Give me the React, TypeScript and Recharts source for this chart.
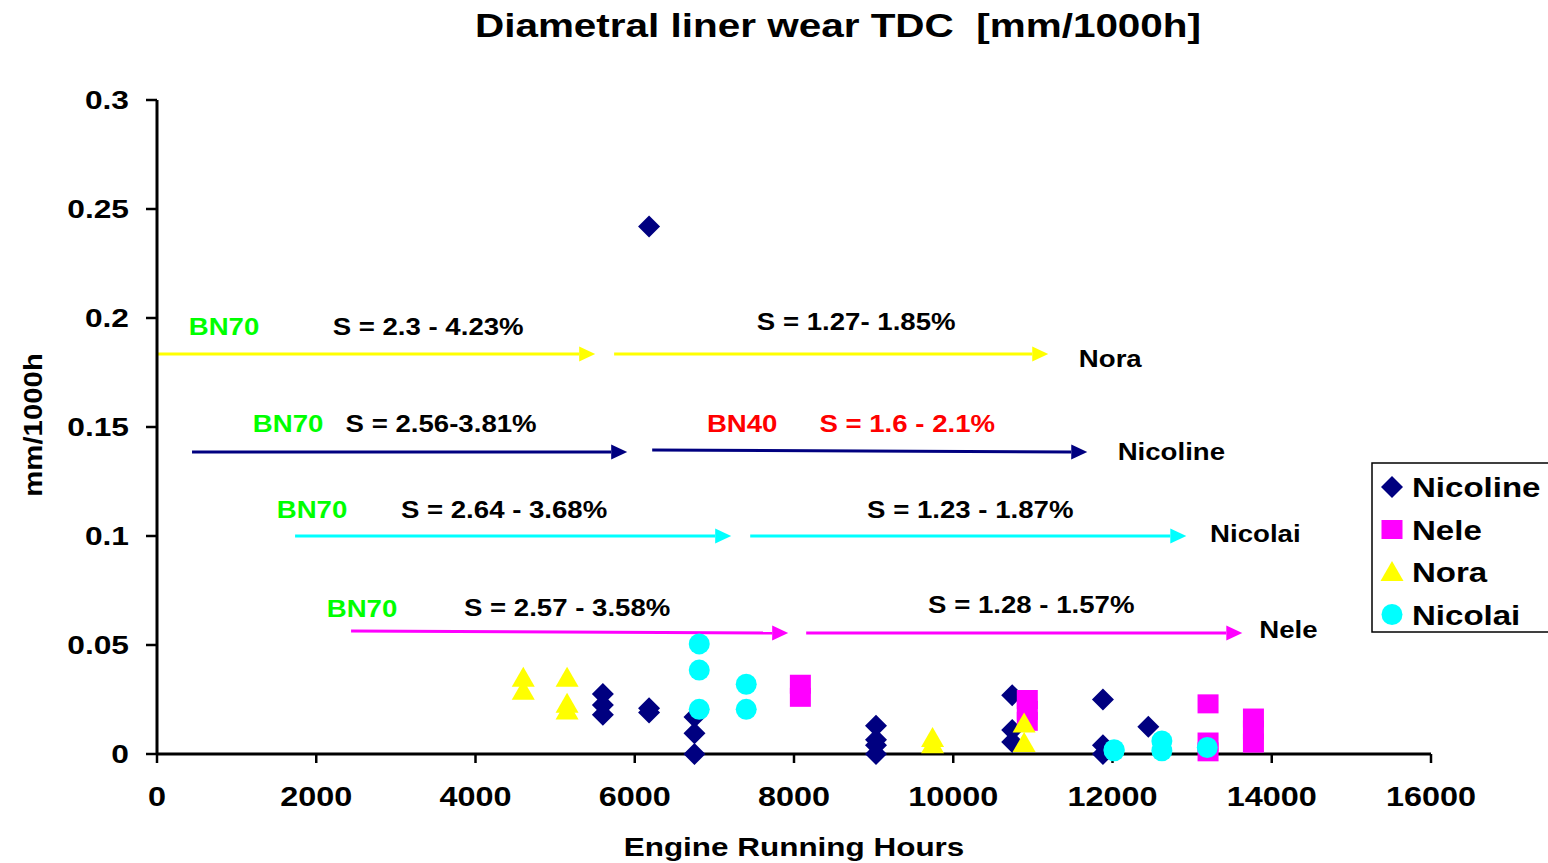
import { ScatterChart, Scatter, XAxis, YAxis, ReferenceLine, ReferenceDot } from "recharts"

// axis ticks
const hourTicks = [0, 2000, 4000, 6000, 8000, 10000, 12000, 14000, 16000]
const wearTicks = [0, 0.05, 0.1, 0.15, 0.2, 0.25, 0.3]

// measured wear per vessel (engine hours, mm/1000h)
const nicolineHours = [6180, 5600, 5600, 5600, 6180, 6180, 6750, 6750, 6750, 9030, 9030, 9030, 9030, 10740, 10740, 10740, 11880, 11880, 11880, 12450]
const nicolineWear = [0.242, 0.0275, 0.0225, 0.018, 0.021, 0.019, 0.017, 0.0095, 0, 0.013, 0.0065, 0.004, 0, 0.027, 0.011, 0.0055, 0.025, 0.004, 0, 0.0125]

const neleHours = [8080, 8080, 10930, 10930, 10930, 13200, 13200, 13200, 13770, 13770, 13770]
const neleWear = [0.032, 0.026, 0.025, 0.02, 0.015, 0.023, 0.0055, 0.001, 0.0165, 0.011, 0.005]

const noraHours = [4600, 4600, 5150, 5150, 5150, 9740, 9740, 10890, 10890]
const noraWear = [0.035, 0.029, 0.035, 0.023, 0.02, 0.0073, 0.0045, 0.014, 0.005]

const nicolaiHours = [6810, 6810, 6810, 7400, 7400, 12020, 12020, 12620, 12620, 13190]
const nicolaiWear = [0.0505, 0.0385, 0.0205, 0.032, 0.0205, 0.002, 0.0015, 0.006, 0.0015, 0.003]

// oil periods (arrows)
const arrowShip = ["Nora", "Nora", "Nicoline", "Nicoline", "Nicolai", "Nicolai", "Nele", "Nele"]
const arrowFrom = [0, 5741, 440, 6219, 1734, 7450, 2437, 8153]
const arrowTo = [5503, 11193, 5905, 11683, 7211, 12927, 7927, 13630]
const arrowWearFrom = [0.1835, 0.1835, 0.1385, 0.1394, 0.1, 0.1, 0.0564, 0.0555]
const arrowWearTo = [0.1835, 0.1835, 0.1385, 0.1385, 0.1, 0.1, 0.0555, 0.0555]

// annotations
const noteText = ["BN70", "S = 2.3 - 4.23%", "S = 1.27- 1.85%", "Nora", "BN70", "S = 2.56-3.81%", "BN40", "S = 1.6 - 2.1%", "Nicoline", "BN70", "S = 2.64 - 3.68%", "S = 1.23 - 1.87%", "Nicolai", "BN70", "S = 2.57 - 3.58%", "S = 1.28 - 1.57%", "Nele"]
const noteHours = [842, 3405, 8781, 11972, 1646, 3568, 7349, 9422, 12739, 1947, 4359, 10214, 13794, 2575, 5151, 10980, 14209]
const noteWear = [0.1963, 0.1963, 0.1986, 0.1817, 0.1518, 0.1518, 0.1518, 0.1518, 0.139, 0.1124, 0.1124, 0.1124, 0.1014, 0.067, 0.0674, 0.0688, 0.0573]

const FONT = "'Liberation Sans', Arial, sans-serif"
const colors: Record<string, string> = {
  Nicoline: "#000080",
  Nele: "#ff00ff",
  Nora: "#ffff00",
  Nicolai: "#00ffff",
}
const noteColor = (t: string) => (t.startsWith("BN70") ? "#00ff00" : t === "BN40" || t === "S = 1.6 - 2.1%" ? "#ff0000" : "#000")

const pts = (xs: number[], ys: number[]) => xs.map((x, i) => ({ x, y: ys[i] }))

const Diamond = (p: any) => {
  const { cx, cy } = p
  return <polygon points={`${cx},${cy - 11} ${cx + 11},${cy} ${cx},${cy + 11} ${cx - 11},${cy}`} fill={colors.Nicoline} />
}
const Square = (p: any) => <rect x={p.cx - 10.5} y={p.cy - 9.5} width={21} height={19} fill={colors.Nele} />
const Triangle = (p: any) => {
  const { cx, cy } = p
  return <polygon points={`${cx},${cy - 11} ${cx + 11.5},${cy + 9} ${cx - 11.5},${cy + 9}`} fill={colors.Nora} />
}
const Circle = (p: any) => <circle cx={p.cx} cy={p.cy} r={10.5} fill={colors.Nicolai} />

const arrowShape = (color: string) => (p: any) => {
  const { x1, y1, x2, y2 } = p
  const a = Math.atan2(y2 - y1, x2 - x1)
  const L = 16
  const W = 7.5
  const bx = x2 - L * Math.cos(a)
  const by = y2 - L * Math.sin(a)
  const nx = -Math.sin(a) * W
  const ny = Math.cos(a) * W
  return (
    <g>
      <line x1={x1} y1={y1} x2={bx} y2={by} stroke={color} strokeWidth={3} />
      <polygon points={`${x2},${y2} ${bx + nx},${by + ny} ${bx - nx},${by - ny}`} fill={color} />
    </g>
  )
}

const YTick = (p: any) => (
  <text transform={`translate(${p.x},${p.y}) scale(1.22,1)`} textAnchor="end" dy="0.36em" fontSize={26} fontWeight="bold" fontFamily={FONT} fill="#000">
    {String(p.payload.value)}
  </text>
)
const XTick = (p: any) => (
  <text transform={`translate(${p.x},${p.y}) scale(1.2,1)`} textAnchor="middle" dy="0.72em" fontSize={27} fontWeight="bold" fontFamily={FONT} fill="#000">
    {String(p.payload.value)}
  </text>
)

const legendItems = [
  { name: "Nicoline", Shape: Diamond },
  { name: "Nele", Shape: Square },
  { name: "Nora", Shape: Triangle },
  { name: "Nicolai", Shape: Circle },
]

export default function App() {
  return (
    <div style={{ position: "absolute", left: 0, top: 0, width: 1548, height: 863, background: "#fff", fontFamily: FONT }}>
      <ScatterChart width={1548} height={863} margin={{ top: 100, right: 117, bottom: 0, left: 0 }}>
        <XAxis
          type="number"
          dataKey="x"
          domain={[0, 16000]}
          ticks={hourTicks}
          height={109}
          axisLine={{ stroke: "#000", strokeWidth: 3 }}
          tickLine={{ stroke: "#000", strokeWidth: 2.5 }}
          tickSize={9}
          tickMargin={24}
          tick={<XTick />}
          interval={0}
        />
        <YAxis
          type="number"
          dataKey="y"
          domain={[0, 0.3]}
          ticks={wearTicks}
          width={157}
          axisLine={{ stroke: "#000", strokeWidth: 3 }}
          tickLine={{ stroke: "#000", strokeWidth: 2.5 }}
          tickSize={11}
          tickMargin={17}
          tick={<YTick />}
          interval={0}
        />
        {arrowShip.map((s, i) => (
          <ReferenceLine
            key={"a" + i}
            segment={[
              { x: arrowFrom[i], y: arrowWearFrom[i] },
              { x: arrowTo[i], y: arrowWearTo[i] },
            ]}
            ifOverflow="visible"
            stroke={colors[s]}
            shape={arrowShape(colors[s])}
          />
        ))}
        {noteText.map((t, i) => (
          <ReferenceDot
            key={"n" + i}
            x={noteHours[i]}
            y={noteWear[i]}
            r={0}
            ifOverflow="visible"
            shape={(p: any) => (
              <text transform={`translate(${p.cx},${p.cy}) scale(1.15,1)`} textAnchor="middle" dy="0.36em" fontSize={24} fontWeight="bold" fontFamily={FONT} fill={noteColor(t)}>
                {t}
              </text>
            )}
          />
        ))}
        <Scatter name="Nicoline" data={pts(nicolineHours, nicolineWear)} shape={Diamond} isAnimationActive={false} />
        <Scatter name="Nele" data={pts(neleHours, neleWear)} shape={Square} isAnimationActive={false} />
        <Scatter name="Nora" data={pts(noraHours, noraWear)} shape={Triangle} isAnimationActive={false} />
        <Scatter name="Nicolai" data={pts(nicolaiHours, nicolaiWear)} shape={Circle} isAnimationActive={false} />
      </ScatterChart>
      <svg width={1548} height={863} style={{ position: "absolute", left: 0, top: 0, pointerEvents: "none" }}>
        <text transform="translate(838,37) scale(1.19,1)" textAnchor="middle" fontSize={34} fontWeight="bold" fontFamily={FONT} style={{ whiteSpace: "pre" }}>
          {"Diametral liner wear TDC  [mm/1000h]"}
        </text>
        <text transform="translate(794,856) scale(1.21,1)" textAnchor="middle" fontSize={26} fontWeight="bold" fontFamily={FONT}>
          Engine Running Hours
        </text>
        <text transform="translate(42,425) rotate(-90) scale(1.13,1)" textAnchor="middle" fontSize={26} fontWeight="bold" fontFamily={FONT}>
          mm/1000h
        </text>
        <rect x={1372} y={463} width={200} height={169} fill="#fff" stroke="#000" strokeWidth={1.5} />
        {legendItems.map((it, i) => {
          const cy = 487 + i * 42.5
          return (
            <g key={it.name}>
              <it.Shape cx={1392} cy={cy} />
              <text transform={`translate(1412,${cy}) scale(1.18,1)`} dy="0.36em" fontSize={28} fontWeight="bold" fontFamily={FONT}>
                {it.name}
              </text>
            </g>
          )
        })}
      </svg>
    </div>
  )
}
